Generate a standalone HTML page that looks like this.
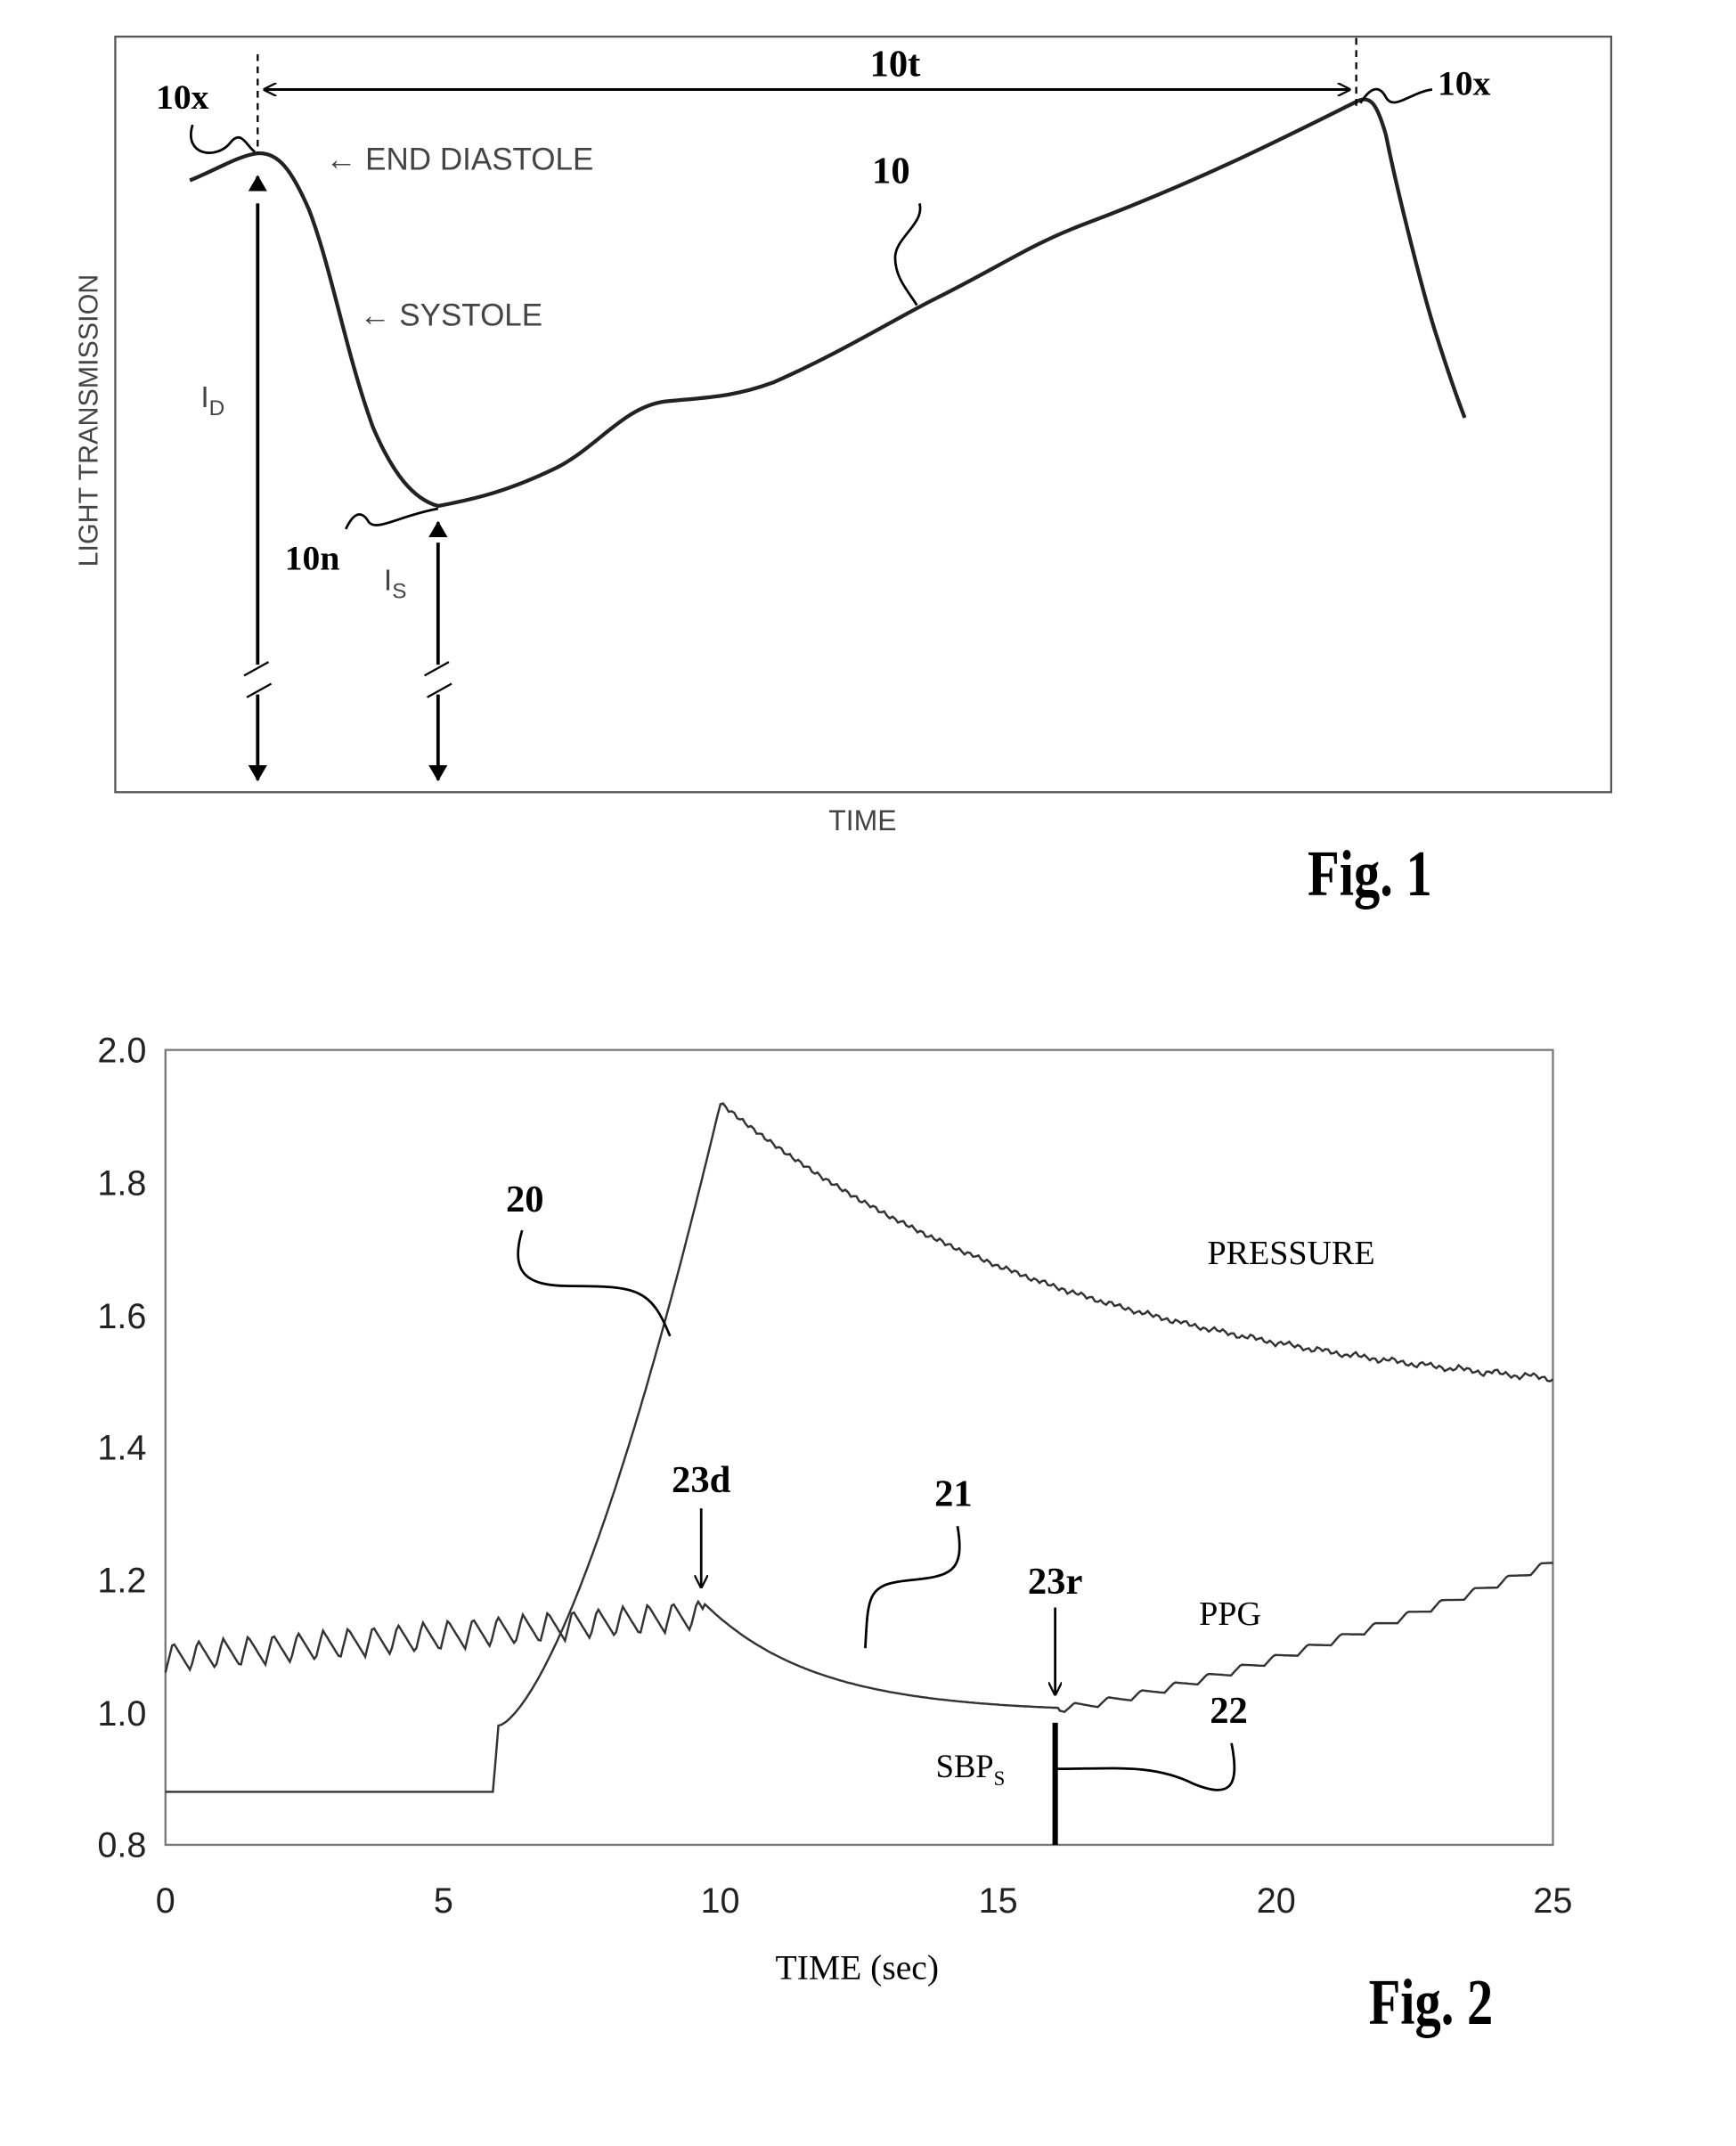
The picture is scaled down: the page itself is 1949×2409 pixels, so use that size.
<!DOCTYPE html>
<html><head><meta charset="utf-8"><style>
html,body{margin:0;padding:0;background:#fff;}
svg{display:block;}
.a{font-family:"Liberation Sans",sans-serif;fill:#444;}
.s{font-family:"Liberation Serif",serif;font-weight:bold;fill:#000;}
</style></head><body>
<svg id="g" width="1949" height="2409" viewBox="0 0 1280 1582" preserveAspectRatio="none" xmlns="http://www.w3.org/2000/svg">
<defs><marker id="ar" markerWidth="10" markerHeight="10" refX="9" refY="5" orient="auto" markerUnits="userSpaceOnUse"><path d="M0,0 L10,5 L0,10" fill="none" stroke="#000" stroke-width="1.5"/></marker>
<marker id="af" markerWidth="12" markerHeight="14" refX="11" refY="7" orient="auto" markerUnits="userSpaceOnUse"><path d="M0,0 L12,7 L0,14 Z" fill="#000"/></marker></defs>
<!-- Fig 1 -->
<rect x="85" y="27" width="1103" height="557" fill="none" stroke="#555" stroke-width="1.5"/>
<path d="M140,133 C160,125 175,115 190,113 C205,112 215,125 228,155 C245,200 255,260 275,315 C290,350 305,368 323,373 C350,368 375,362 410,345 C440,330 460,300 490,296 C520,293 540,293 570,282 C620,260 660,235 690,220 C740,195 760,180 800,165 C880,135 940,105 1000,75 C1010,70 1015,75 1022,100 C1030,140 1050,220 1060,250 C1068,275 1075,295 1080,308" fill="none" stroke="#222" stroke-width="2.8"/>
<line x1="190" y1="40" x2="190" y2="113" stroke="#000" stroke-width="1.5" stroke-dasharray="5,4"/>
<line x1="1000" y1="28" x2="1000" y2="80" stroke="#000" stroke-width="1.5" stroke-dasharray="5,4"/>
<line x1="195" y1="66" x2="995" y2="66" stroke="#000" stroke-width="2" marker-end="url(#ar)"/>
<line x1="995" y1="66" x2="195" y2="66" stroke="#000" stroke-width="2" marker-end="url(#ar)"/>
<text x="660" y="56" class="s" font-size="28" text-anchor="middle">10t</text>
<text x="115" y="80" class="s" font-size="26">10x</text>
<path d="M142,92 C135,115 160,118 170,105 C178,95 182,108 188,112" fill="none" stroke="#000" stroke-width="1.8"/>
<text x="1060" y="70" class="s" font-size="26">10x</text>
<path d="M1003,76 C1012,62 1018,64 1022,72 C1028,82 1040,68 1056,66" fill="none" stroke="#000" stroke-width="1.8"/>
<text x="240" y="125" class="a" font-size="23">← END DIASTOLE</text>
<text x="265" y="240" class="a" font-size="23">← SYSTOLE</text>
<text x="643" y="135" class="s" font-size="28">10</text>
<path d="M678,150 C682,165 660,175 660,190 C660,205 670,215 676,225" fill="none" stroke="#000" stroke-width="1.8"/>
<line x1="190" y1="150" x2="190" y2="490" stroke="#000" stroke-width="2.5"/>
<line x1="190" y1="140" x2="190" y2="130" stroke="#000" stroke-width="2.5" marker-end="url(#af)"/>
<line x1="190" y1="512" x2="190" y2="575" stroke="#000" stroke-width="2.5" marker-end="url(#af)"/>
<path d="M180,498 L198,488 M182,514 L200,504" stroke="#000" stroke-width="1.5"/>
<line x1="323" y1="400" x2="323" y2="490" stroke="#000" stroke-width="2.5"/>
<line x1="323" y1="395" x2="323" y2="385" stroke="#000" stroke-width="2.5" marker-end="url(#af)"/>
<line x1="323" y1="512" x2="323" y2="575" stroke="#000" stroke-width="2.5" marker-end="url(#af)"/>
<path d="M313,498 L331,488 M315,514 L333,504" stroke="#000" stroke-width="1.5"/>
<text x="148" y="300" class="a" font-size="22">I<tspan font-size="16" dy="6">D</tspan></text>
<text x="283" y="435" class="a" font-size="22">I<tspan font-size="16" dy="6">S</tspan></text>
<text x="210" y="420" class="s" font-size="26">10n</text>
<path d="M255,390 C262,375 268,378 272,385 C278,392 295,380 323,375" fill="none" stroke="#000" stroke-width="1.8"/>
<text transform="translate(72,310) rotate(-90)" class="a" font-size="20" text-anchor="middle">LIGHT TRANSMISSION</text>
<text x="636" y="612" class="a" font-size="21" text-anchor="middle">TIME</text>
<text x="1010" y="660" class="s" font-size="48" text-anchor="middle" transform="translate(1010,0) scale(0.8,1) translate(-1010,0)">Fig. 1</text>
<!-- Fig 2 -->
<path d="M122,774 L1145,774 L1145,1360 L122,1360 Z" fill="none" stroke="#777" stroke-width="1.5"/>
<g class="a" font-size="26" text-anchor="end" style="fill:#222">
<text x="108" y="783">2.0</text><text x="108" y="881">1.8</text><text x="108" y="979">1.6</text><text x="108" y="1076">1.4</text><text x="108" y="1174">1.2</text><text x="108" y="1272">1.0</text><text x="108" y="1369">0.8</text></g>
<g class="a" font-size="26" text-anchor="middle" style="fill:#222">
<text x="122" y="1410">0</text><text x="327" y="1410">5</text><text x="531" y="1410">10</text><text x="736" y="1410">15</text><text x="941" y="1410">20</text><text x="1145" y="1410">25</text></g>
<path id="pr" fill="none" stroke="#333" stroke-width="1.6"/>
<path id="pp" fill="none" stroke="#333" stroke-width="1.6"/>
<line x1="778" y1="1270" x2="778" y2="1360" stroke="#000" stroke-width="4"/>
<text x="632" y="1459" class="s" font-size="26" text-anchor="middle" style="font-weight:normal">TIME (sec)</text>
<text x="952" y="932" class="s" font-size="25" text-anchor="middle" style="font-weight:normal">PRESSURE</text>
<text x="907" y="1198" class="s" font-size="25" text-anchor="middle" style="font-weight:normal">PPG</text>
<text x="387" y="893" class="s" font-size="28" text-anchor="middle">20</text>
<path d="M385,907 C375,940 390,948 420,948 C470,948 480,950 494,985" fill="none" stroke="#000" stroke-width="1.8"/>
<text x="517" y="1100" class="s" font-size="28" text-anchor="middle">23d</text>
<line x1="517" y1="1112" x2="517" y2="1170" stroke="#000" stroke-width="1.8" marker-end="url(#ar)"/>
<text x="703" y="1110" class="s" font-size="28" text-anchor="middle">21</text>
<path d="M706,1125 C712,1160 700,1162 670,1165 C640,1168 640,1175 638,1215" fill="none" stroke="#000" stroke-width="1.8"/>
<text x="778" y="1175" class="s" font-size="28" text-anchor="middle">23r</text>
<line x1="778" y1="1185" x2="778" y2="1249" stroke="#000" stroke-width="1.8" marker-end="url(#ar)"/>
<text x="906" y="1270" class="s" font-size="28" text-anchor="middle">22</text>
<path d="M779,1304 C820,1304 850,1300 880,1315 C905,1325 915,1320 908,1285" fill="none" stroke="#000" stroke-width="1.8"/>
<text x="690" y="1310" class="s" font-size="24" style="font-weight:normal">SBP<tspan font-size="15" dy="6">S</tspan></text>
<text x="1055" y="1492" class="s" font-size="48" text-anchor="middle" transform="translate(1055,0) scale(0.8,1) translate(-1055,0)">Fig. 2</text>
</svg>
<script>
function X(t){return 122+t*40.92;}function Y(v){return 1360-(v-0.8)/1.2*586;}
var d="",t,v;
for(t=0;t<=25.001;t+=0.05){
 if(t<5.9)v=0.88;else if(t<6.0)v=0.88+(t-5.9)*1.0;
 else if(t<=10)v=0.98+0.94*Math.pow((t-6)/4,1.5);
 else{v=1.45+0.47*Math.exp(-(t-10)/6.7);var ph=(t*1.6)%1;v+=0.008*(t-10)/15*(ph<0.3?ph/0.3:(1-ph)/0.7)+0.003*Math.sin(t*37);}
 d+=(d?"L":"M")+X(t).toFixed(1)+","+Y(v).toFixed(1);}
document.getElementById("pr").setAttribute("d",d);
d="";
for(t=0;t<=25.001;t+=0.04){
 if(t<9.7){var b=1.075+0.065*t/9.7;var p=(t%0.45)/0.45;v=b+(p<0.3?0.045*p/0.3:0.045*(1-p)/0.7)-0.015;}
 else if(t<16.1)v=1.0+0.165*Math.exp(-(t-9.7)/2.0);
 else{var base=1.0+0.22*Math.pow((t-16.1)/8.9,1.3);var q=(t%0.6)/0.6;v=base+0.012*(q<0.3?q/0.3:(1-q)/0.7);}
 d+=(d?"L":"M")+X(t).toFixed(1)+","+Y(v).toFixed(1);}
document.getElementById("pp").setAttribute("d",d);
</script>
</body></html>
